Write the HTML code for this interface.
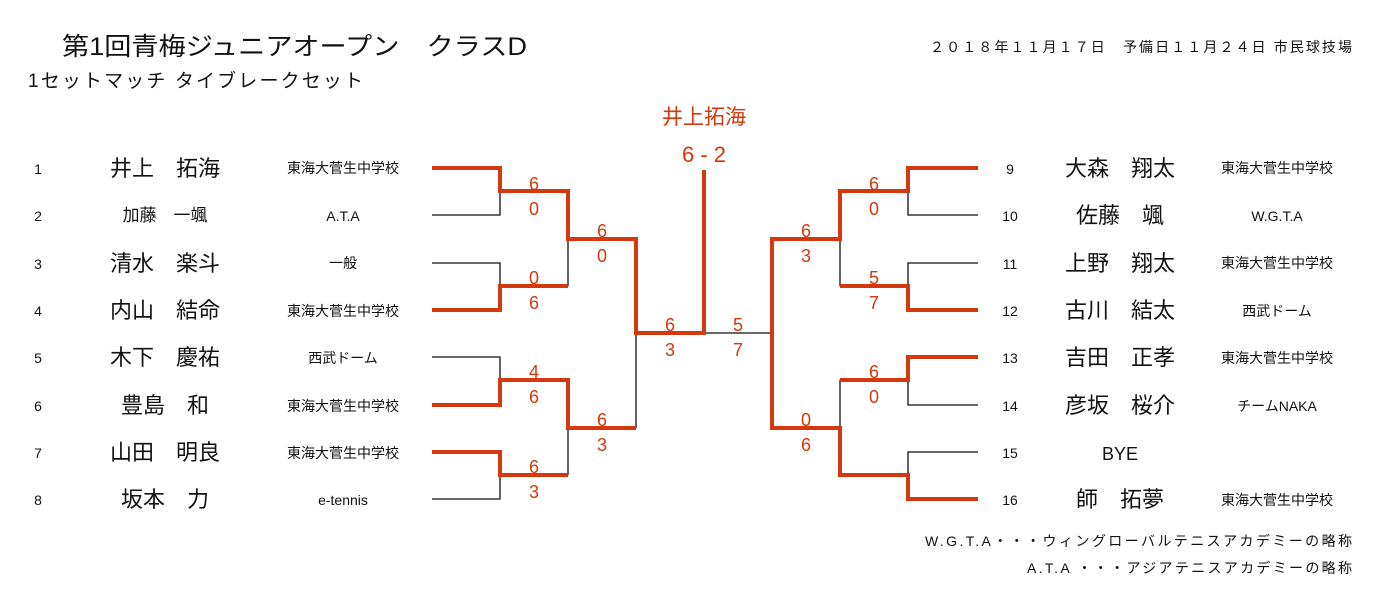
<!DOCTYPE html>
<html><head><meta charset="utf-8"><style>
html,body{margin:0;padding:0;background:#fff;}
svg{display:block;font-family:"Liberation Sans","Noto Sans CJK JP",sans-serif;}
</style></head><body>
<svg width="1381" height="608" viewBox="0 0 1381 608" xmlns="http://www.w3.org/2000/svg">
<text x="62" y="55" font-size="25" fill="#111" textLength="465" lengthAdjust="spacingAndGlyphs">第1回青梅ジュニアオープン　クラスD</text>
<text x="28" y="87" font-size="19" fill="#111" textLength="335" lengthAdjust="spacing">1セットマッチ タイブレークセット</text>
<text x="930" y="52" font-size="14" fill="#111" textLength="422" lengthAdjust="spacing">２０１８年１１月１７日　予備日１１月２４日 市民球技場</text>
<text x="704" y="124" font-size="21" fill="#d4380d" text-anchor="middle">井上拓海</text>
<text x="704" y="162" font-size="22" fill="#d4380d" text-anchor="middle">6 - 2</text>

<g fill="none" stroke="#111" stroke-width="1.3">
<path d="M432 215H500V191"/><path d="M432 263H500V286"/><path d="M432 357H500V380"/><path d="M500 475V499H432"/>
<path d="M568 239V286"/><path d="M568 428V475"/><path d="M636 333V428"/>
<path d="M704 333H772V239"/>
<path d="M978 215H908V191"/><path d="M978 263H908V286"/><path d="M908 380V405H978"/><path d="M978 452H908V475"/>
<path d="M840 239V286"/><path d="M840 428V380"/>
</g>
<g fill="none" stroke="#d4380d" stroke-width="4">
<path d="M432 168H500V191H568V239H636V333H704V170"/>
<path d="M432 310H500V286H568"/>
<path d="M432 405H500V380H568V428H636"/>
<path d="M432 452H500V475H568"/>
<path d="M978 168H908V191H840V239H772V428H840V475H908V499H978"/>
<path d="M978 310H908V286H840"/>
<path d="M978 357H908V380H840"/>
</g>
<g font-size="18" fill="#d4380d" text-anchor="middle">
<text x="534" y="190">6</text><text x="534" y="215">0</text>
<text x="534" y="284">0</text><text x="534" y="309">6</text>
<text x="534" y="378">4</text><text x="534" y="403">6</text>
<text x="534" y="473">6</text><text x="534" y="498">3</text>
<text x="602" y="237">6</text><text x="602" y="262">0</text>
<text x="602" y="426">6</text><text x="602" y="451">3</text>
<text x="670" y="331">6</text><text x="670" y="356">3</text>
<text x="738" y="331">5</text><text x="738" y="356">7</text>
<text x="806" y="237">6</text><text x="806" y="262">3</text>
<text x="806" y="426">0</text><text x="806" y="451">6</text>
<text x="874" y="190">6</text><text x="874" y="215">0</text>
<text x="874" y="284">5</text><text x="874" y="309">7</text>
<text x="874" y="378">6</text><text x="874" y="403">0</text>
</g>
<g font-size="14" fill="#111" text-anchor="middle">
<text x="38" y="174">1</text><text x="38" y="221">2</text><text x="38" y="269">3</text><text x="38" y="316">4</text>
<text x="38" y="363">5</text><text x="38" y="411">6</text><text x="38" y="458">7</text><text x="38" y="505">8</text>
<text x="1010" y="174">9</text><text x="1010" y="221">10</text><text x="1010" y="269">11</text><text x="1010" y="316">12</text>
<text x="1010" y="363">13</text><text x="1010" y="411">14</text><text x="1010" y="458">15</text><text x="1010" y="505">16</text>
</g>
<g font-size="22" fill="#111" text-anchor="middle">
<text x="165" y="176">井上　拓海</text>
<text x="165" y="221" font-size="17">加藤　一颯</text>
<text x="165" y="271">清水　楽斗</text>
<text x="165" y="318">内山　結命</text>
<text x="165" y="365">木下　慶祐</text>
<text x="165" y="413">豊島　和</text>
<text x="165" y="460">山田　明良</text>
<text x="165" y="507">坂本　力</text>
<text x="1120" y="176">大森　翔太</text>
<text x="1120" y="223">佐藤　颯</text>
<text x="1120" y="271">上野　翔太</text>
<text x="1120" y="318">古川　結太</text>
<text x="1120" y="365">吉田　正孝</text>
<text x="1120" y="413">彦坂　桜介</text>
<text x="1120" y="460" font-size="18">BYE</text>
<text x="1120" y="507">師　拓夢</text>
</g>
<g font-size="14" fill="#111" text-anchor="middle">
<text x="343" y="173">東海大菅生中学校</text>
<text x="343" y="221">A.T.A</text>
<text x="343" y="268">一般</text>
<text x="343" y="316">東海大菅生中学校</text>
<text x="343" y="363">西武ドーム</text>
<text x="343" y="411">東海大菅生中学校</text>
<text x="343" y="458">東海大菅生中学校</text>
<text x="343" y="505">e-tennis</text>
<text x="1277" y="173">東海大菅生中学校</text>
<text x="1277" y="221">W.G.T.A</text>
<text x="1277" y="268">東海大菅生中学校</text>
<text x="1277" y="316">西武ドーム</text>
<text x="1277" y="363">東海大菅生中学校</text>
<text x="1277" y="411">チームNAKA</text>
<text x="1277" y="505">東海大菅生中学校</text>
</g>
<g font-size="14" fill="#111">
<text x="925" y="546" textLength="427" lengthAdjust="spacing">W.G.T.A・・・ウィングローバルテニスアカデミーの略称</text>
<text x="1027" y="573" textLength="325" lengthAdjust="spacing">A.T.A ・・・アジアテニスアカデミーの略称</text>
</g>
</svg>
</body></html>
